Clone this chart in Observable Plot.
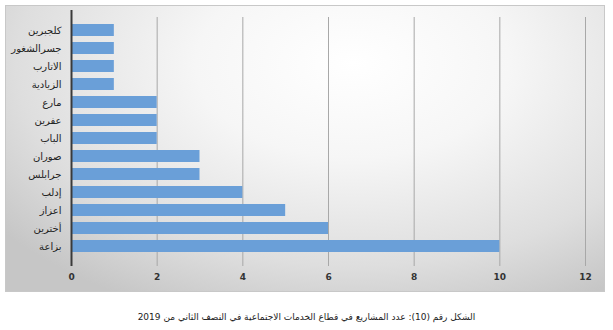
<!DOCTYPE html>
<html><head><meta charset="utf-8">
<script src="https://cdn.jsdelivr.net/npm/d3@7"></script>
<script src="https://cdn.jsdelivr.net/npm/@observablehq/plot@0.6"></script>
<style>
body{margin:0;background:#fff;width:613px;height:330px;overflow:hidden;font-family:"DejaVu Sans",sans-serif;}
#panel{position:absolute;left:5px;top:5px;width:600px;height:287px;border:1px solid #c8c8c8;box-sizing:border-box;
background:radial-gradient(ellipse 75% 95% at 58% 20%, #ffffff 0%, #f6f6f6 35%, #dedede 75%, #c6c6c6 100%);}
#caption{position:absolute;left:0;top:312px;width:613px;text-align:center;font-size:9px;color:#222;direction:rtl;font-family:"DejaVu Sans",sans-serif;}
</style></head>
<body>
<div id="panel"></div>
<div id="caption"></div>
<script>
const categories = ["كلجبرين","جسرالشغور","الاتارب","الزيادية","مارع","عفرين","الباب","صوران","جرابلس","إدلب","اعزاز","أخترين","بزاعة"];
const values = [1,1,1,1,2,2,2,3,3,4,5,6,10];
const xTicks = [0,2,4,6,8,10,12];
const captionText = "الشكل رقم (10): عدد المشاريع في قطاع الخدمات الاجتماعية في النصف الثاني من 2019";

const data = categories.map((c,i)=>({category:c, value:values[i]}));

const chart = Plot.plot({
  width: 600, height: 287,
  marginLeft: 66, marginRight: 20, marginTop: 12, marginBottom: 33,
  style: {background: "transparent", fontFamily: "DejaVu Sans, sans-serif"},
  x: {domain: [0,12], ticks: xTicks, label: null},
  y: {domain: categories, padding: 0.36, label: null},
  marks: [
    Plot.ruleX(xTicks.filter(d=>d>0), {stroke:"#a8a8a8", strokeWidth:1, insetBottom:-7}),
    Plot.barX(data, {y:"category", x:"value", fill:"#6a9fd8"}),
    Plot.ruleX([0], {stroke:"#3a3a3a", strokeWidth:2, insetTop:-7, insetBottom:-7}),
    Plot.axisX({ticks: xTicks, tickSize:0, tickPadding:14, fontSize:9, fontWeight:"bold", fill:"#333", label:null}),
    Plot.axisY({tickSize:0, tickPadding:10, fontSize:10, fill:"#222", label:null})
  ]
});
chart.style.position = "absolute";
chart.style.left = "5px";
chart.style.top = "5px";
document.body.appendChild(chart);
document.getElementById("caption").textContent = captionText;
</script>
</body></html>
